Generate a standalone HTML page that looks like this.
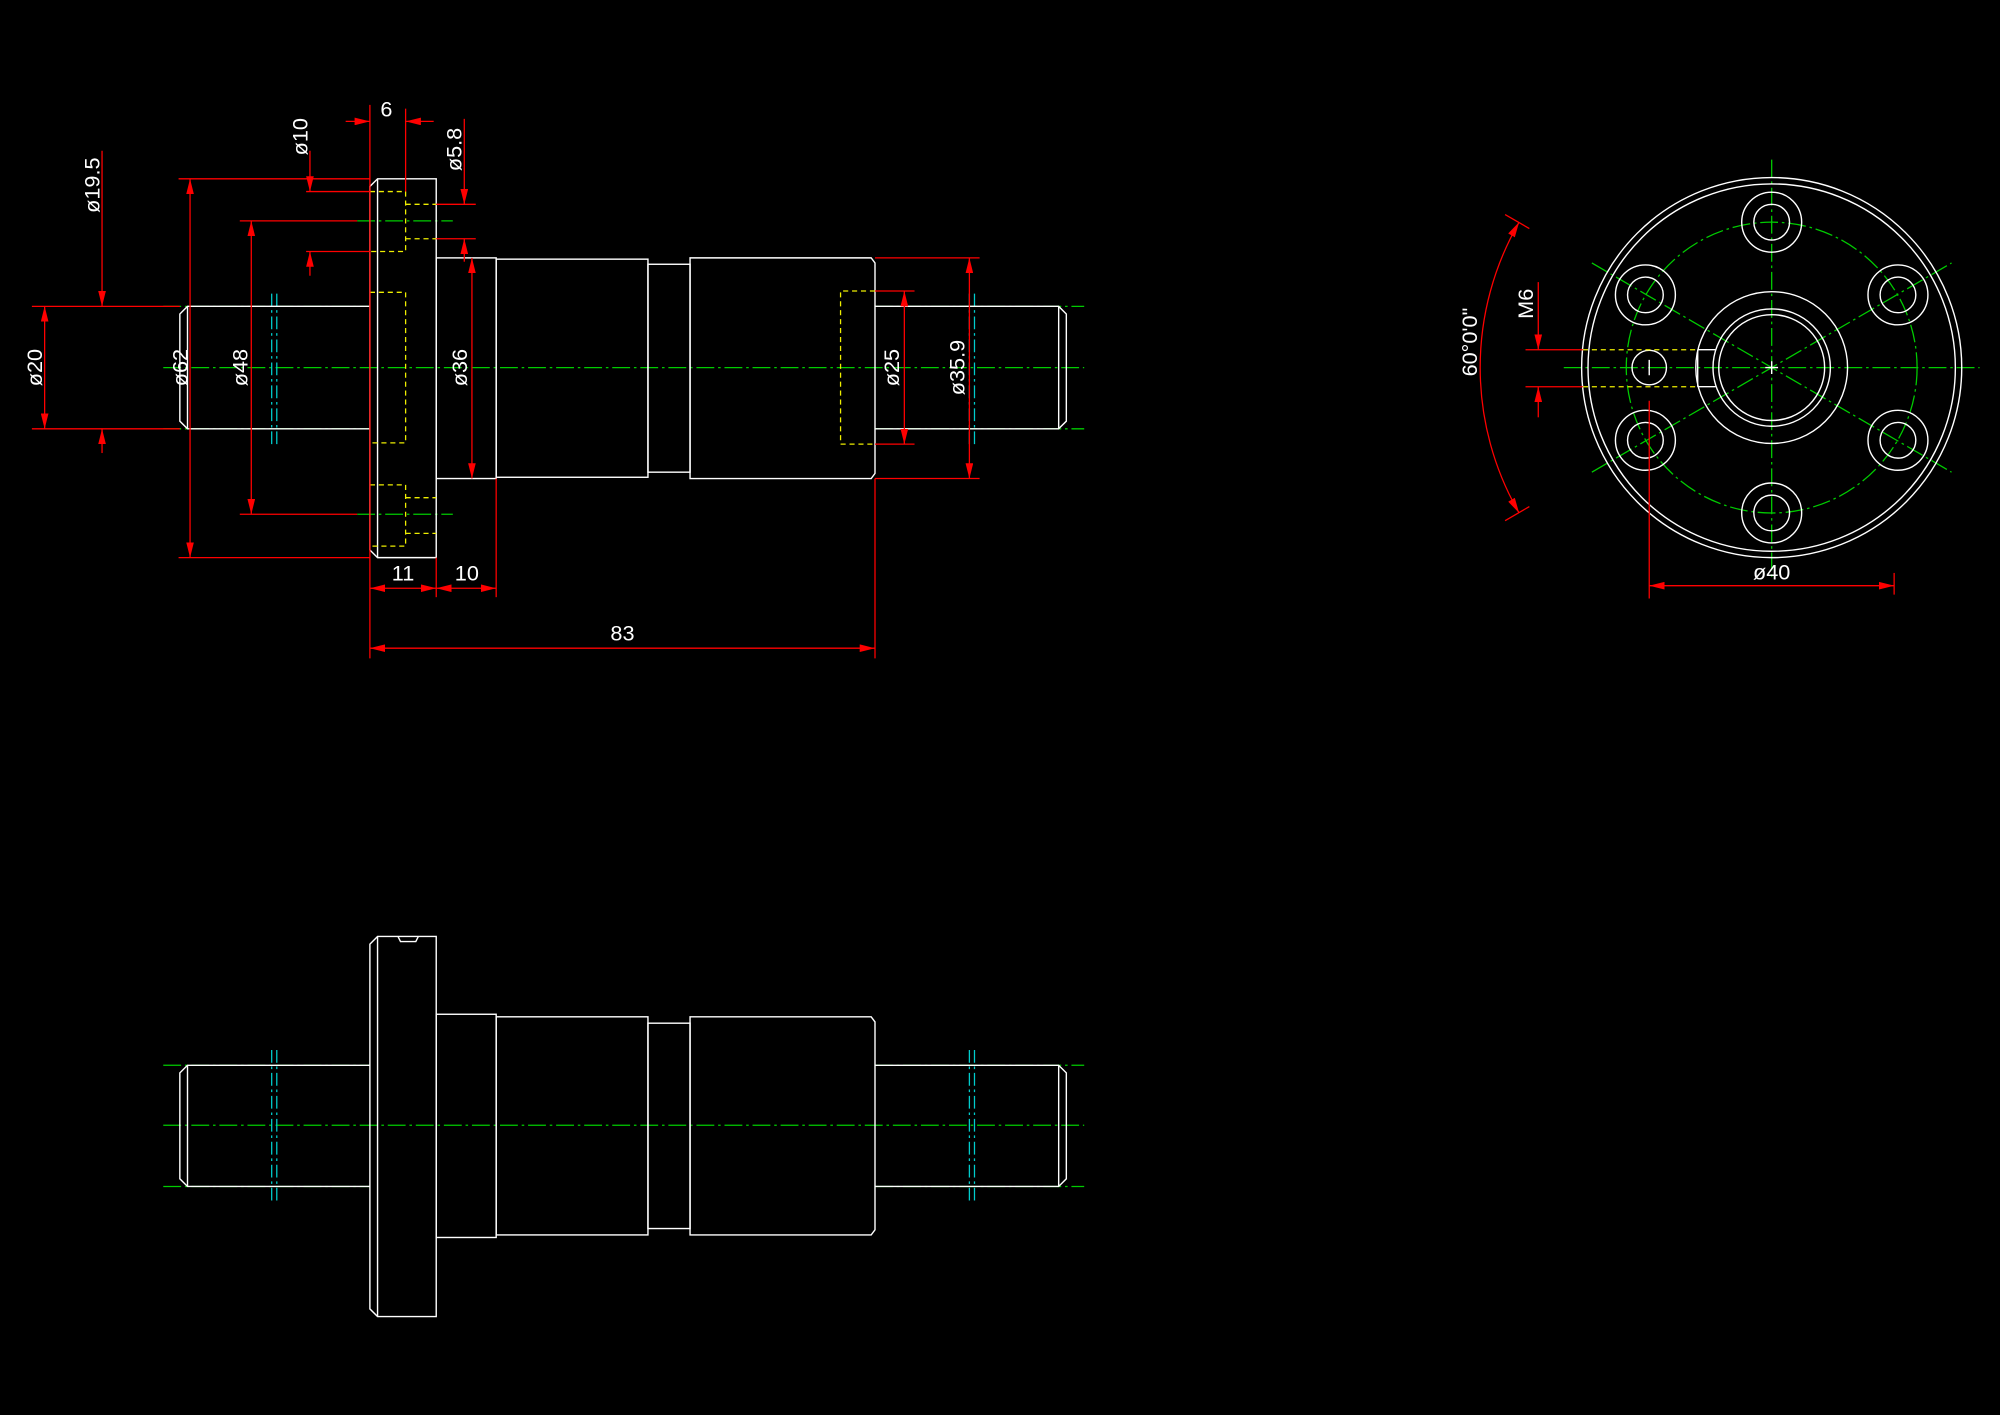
<!DOCTYPE html>
<html><head><meta charset="utf-8"><style>
html,body{margin:0;padding:0;background:#000;}
svg{display:block;}
text{font-family:"Liberation Sans",sans-serif;font-size:17px;fill:#fff;}
</style></head><body>
<svg width="2000" height="1415" viewBox="0 0 1568 1109" xmlns="http://www.w3.org/2000/svg">
<defs>
<marker id="a" markerUnits="userSpaceOnUse" markerWidth="12" markerHeight="6" refX="12" refY="3" orient="auto-start-reverse">
<path d="M0,0 L12,3 L0,6 z" fill="#f00"/></marker>
</defs>
<rect width="1568" height="1109" fill="#000"/>

<!-- ========== TOP VIEW ========== -->
<g stroke="#0c0" stroke-width="1" stroke-dasharray="14,3,2,3" fill="none">
<line x1="128" y1="288" x2="850" y2="288"/>
<line x1="128" y1="240" x2="290" y2="240"/>
<line x1="128" y1="336" x2="290" y2="336"/>
<line x1="686" y1="240" x2="850" y2="240"/>
<line x1="686" y1="336" x2="850" y2="336"/>
<line x1="280" y1="173" x2="355" y2="173"/>
<line x1="280" y1="403" x2="355" y2="403"/>
</g>
<g stroke="#0cc" stroke-width="1" stroke-dasharray="10,3,2,3">
<line x1="213" y1="230" x2="213" y2="350"/><line x1="217" y1="230" x2="217" y2="350"/>
<line x1="760" y1="230" x2="760" y2="350"/><line x1="764" y1="230" x2="764" y2="350"/>
</g>
<g stroke="#fff" stroke-width="1.1" fill="none">
<path d="M290,240 L147,240 L141,246 L141,330 L147,336 L290,336"/>
<line x1="147" y1="240" x2="147" y2="336"/>
<path d="M296,140 L342,140 L342,437 L296,437 L290,431 L290,146 Z"/>
<line x1="296" y1="140" x2="296" y2="437"/>
<rect x="342" y="202" width="47" height="173"/>
<rect x="389" y="203" width="119" height="171"/>
<rect x="508" y="207" width="33" height="163"/>
<path d="M541,202 L683,202 L686,206 L686,371 L683,375 L541,375 Z"/>
<path d="M686,240 L830,240 L836,246 L836,330 L830,336 L686,336"/>
<line x1="830" y1="240" x2="830" y2="336"/>
</g>
<g stroke="#ee0" stroke-width="1" stroke-dasharray="4,3" fill="none">
<path d="M290,150 L318,150 L318,197 L290,197"/>
<path d="M318,160 L342,160 M318,187 L342,187"/>
<path d="M290,380 L318,380 L318,428 L290,428"/>
<path d="M318,390 L342,390 M318,418 L342,418"/>
<path d="M290,229 L318,229 L318,347 L290,347"/>
<path d="M686,228 L659,228 L659,348 L686,348"/>
</g>

<!-- dimensions top view -->
<g stroke="#f00" stroke-width="1" fill="none">
<!-- ext lines -->
<line x1="25" y1="240" x2="141" y2="240"/><line x1="25" y1="336" x2="141" y2="336"/>
<line x1="140" y1="140" x2="290" y2="140"/><line x1="140" y1="437" x2="290" y2="437"/>
<line x1="188" y1="173" x2="280" y2="173"/><line x1="188" y1="403" x2="280" y2="403"/>
<line x1="240" y1="150" x2="290" y2="150"/><line x1="240" y1="197" x2="290" y2="197"/>
<line x1="342" y1="160" x2="373" y2="160"/><line x1="342" y1="187" x2="373" y2="187"/>
<line x1="290" y1="82" x2="290" y2="516"/><line x1="318" y1="85" x2="318" y2="150"/>
<line x1="389" y1="375" x2="389" y2="468"/><line x1="342" y1="437" x2="342" y2="468"/>
<line x1="686" y1="375" x2="686" y2="516"/>
<line x1="686" y1="228" x2="717" y2="228"/><line x1="686" y1="348" x2="717" y2="348"/>
<line x1="686" y1="202" x2="768" y2="202"/><line x1="686" y1="375" x2="768" y2="375"/>
<!-- dim lines -->
<line x1="35" y1="240" x2="35" y2="336" marker-start="url(#a)" marker-end="url(#a)"/>
<line x1="80" y1="118" x2="80" y2="240" marker-end="url(#a)"/>
<line x1="80" y1="355" x2="80" y2="336" marker-end="url(#a)"/>
<line x1="149" y1="140" x2="149" y2="437" marker-start="url(#a)" marker-end="url(#a)"/>
<line x1="197" y1="173" x2="197" y2="403" marker-start="url(#a)" marker-end="url(#a)"/>
<line x1="243" y1="118" x2="243" y2="150" marker-end="url(#a)"/>
<line x1="243" y1="216" x2="243" y2="197" marker-end="url(#a)"/>
<line x1="271" y1="95" x2="290" y2="95" marker-end="url(#a)"/>
<line x1="340" y1="95" x2="318" y2="95" marker-end="url(#a)"/>
<line x1="364" y1="93" x2="364" y2="160" marker-end="url(#a)"/>
<line x1="364" y1="205" x2="364" y2="187" marker-end="url(#a)"/>
<line x1="370" y1="202" x2="370" y2="375" marker-start="url(#a)" marker-end="url(#a)"/>
<line x1="709" y1="228" x2="709" y2="348" marker-start="url(#a)" marker-end="url(#a)"/>
<line x1="760" y1="202" x2="760" y2="375" marker-start="url(#a)" marker-end="url(#a)"/>
<line x1="290" y1="461" x2="342" y2="461" marker-start="url(#a)" marker-end="url(#a)"/>
<line x1="342" y1="461" x2="389" y2="461" marker-start="url(#a)" marker-end="url(#a)"/>
<line x1="290" y1="508" x2="686" y2="508" marker-start="url(#a)" marker-end="url(#a)"/>
</g>
<g text-anchor="middle">
<text transform="translate(33,288) rotate(-90)">ø20</text>
<text transform="translate(78,145) rotate(-90)">ø19.5</text>
<text transform="translate(147,288) rotate(-90)">ø62</text>
<text transform="translate(194,288) rotate(-90)">ø48</text>
<text transform="translate(241,107) rotate(-90)">ø10</text>
<text transform="translate(362,117) rotate(-90)">ø5.8</text>
<text transform="translate(366,288) rotate(-90)">ø36</text>
<text transform="translate(705,288) rotate(-90)">ø25</text>
<text transform="translate(756,288) rotate(-90)">ø35.9</text>
<text x="303" y="91">6</text>
<text x="316" y="455">11</text>
<text x="366" y="455">10</text>
<text x="488" y="502">83</text>
</g>

<!-- ========== SIDE VIEW ========== -->
<g stroke="#0c0" stroke-width="1" stroke-dasharray="14,3,2,3" fill="none">
<circle cx="1389" cy="288" r="114"/>
<line x1="1226" y1="288" x2="1552" y2="288"/>
<line x1="1389" y1="125" x2="1389" y2="455"/>
<line x1="1248" y1="206" x2="1530" y2="370"/>
<line x1="1248" y1="370" x2="1530" y2="206"/>
</g>
<g stroke="#fff" stroke-width="1.1" fill="none">
<circle cx="1389" cy="288" r="149"/>
<circle cx="1389" cy="288" r="144"/>
<circle cx="1389" cy="288" r="59.5"/>
<circle cx="1389" cy="288" r="46"/>
<circle cx="1389" cy="288" r="41.5"/>
<g>
<circle cx="1389" cy="174" r="23.5"/><circle cx="1389" cy="174" r="14"/>
<circle cx="1389" cy="402" r="23.5"/><circle cx="1389" cy="402" r="14"/>
<circle cx="1488" cy="231" r="23.5"/><circle cx="1488" cy="231" r="14"/>
<circle cx="1290" cy="231" r="23.5"/><circle cx="1290" cy="231" r="14"/>
<circle cx="1488" cy="345" r="23.5"/><circle cx="1488" cy="345" r="14"/>
<circle cx="1290" cy="345" r="23.5"/><circle cx="1290" cy="345" r="14"/>
</g>
<circle cx="1293" cy="288" r="13.5"/>
<path d="M1331,274 L1345,274 M1331,303 L1345,303 M1331,274 L1331,303"/>
<path d="M1293,282 L1293,294 M1384,288 L1394,288 M1389,283 L1389,293"/>
</g>
<g stroke="#ee0" stroke-width="1" stroke-dasharray="4,3">
<line x1="1241" y1="274" x2="1331" y2="274"/><line x1="1241" y1="303" x2="1331" y2="303"/>
</g>
<g stroke="#f00" stroke-width="1" fill="none">
<line x1="1196" y1="274" x2="1241" y2="274"/><line x1="1196" y1="303" x2="1241" y2="303"/>
<line x1="1206" y1="221" x2="1206" y2="274" marker-end="url(#a)"/>
<line x1="1206" y1="327" x2="1206" y2="303" marker-end="url(#a)"/>
<line x1="1293" y1="314" x2="1293" y2="469"/>
<line x1="1485" y1="449" x2="1485" y2="466"/>
<line x1="1293" y1="459" x2="1485" y2="459" marker-start="url(#a)" marker-end="url(#a)"/>
<path d="M1191,174 A228,228 0 0 0 1191,402" marker-start="url(#a)" marker-end="url(#a)"/>
<line x1="1180" y1="168" x2="1199" y2="179"/>
<line x1="1180" y1="408" x2="1199" y2="397"/>
</g>
<text transform="translate(1202,238) rotate(-90)" text-anchor="middle">M6</text>
<text x="1389" y="454" text-anchor="middle">ø40</text>
<text transform="translate(1158,268) rotate(-90)" text-anchor="middle">60°0'0"</text>

<!-- ========== BOTTOM VIEW ========== -->
<g stroke="#0c0" stroke-width="1" stroke-dasharray="14,3,2,3">
<line x1="128" y1="882" x2="850" y2="882"/>
<line x1="128" y1="835" x2="290" y2="835"/>
<line x1="128" y1="930" x2="290" y2="930"/>
<line x1="686" y1="835" x2="850" y2="835"/>
<line x1="686" y1="930" x2="850" y2="930"/>
</g>
<g stroke="#0cc" stroke-width="1" stroke-dasharray="10,3,2,3">
<line x1="213" y1="823" x2="213" y2="942"/><line x1="217" y1="823" x2="217" y2="942"/>
<line x1="760" y1="823" x2="760" y2="942"/><line x1="764" y1="823" x2="764" y2="942"/>
</g>
<g stroke="#fff" stroke-width="1.1" fill="none">
<path d="M290,835 L147,835 L141,841 L141,924 L147,930 L290,930"/>
<line x1="147" y1="835" x2="147" y2="930"/>
<path d="M296,734 L342,734 L342,1032 L296,1032 L290,1026 L290,740 Z"/>
<line x1="296" y1="734" x2="296" y2="1032"/>
<path d="M312,734 L314,738 L326,738 L328,734"/>
<rect x="342" y="795" width="47" height="175"/>
<rect x="389" y="797" width="119" height="171"/>
<rect x="508" y="802" width="33" height="161"/>
<path d="M541,797 L683,797 L686,801 L686,964 L683,968 L541,968 Z"/>
<path d="M686,835 L830,835 L836,841 L836,924 L830,930 L686,930"/>
<line x1="830" y1="835" x2="830" y2="930"/>
</g>
</svg>
</body></html>
